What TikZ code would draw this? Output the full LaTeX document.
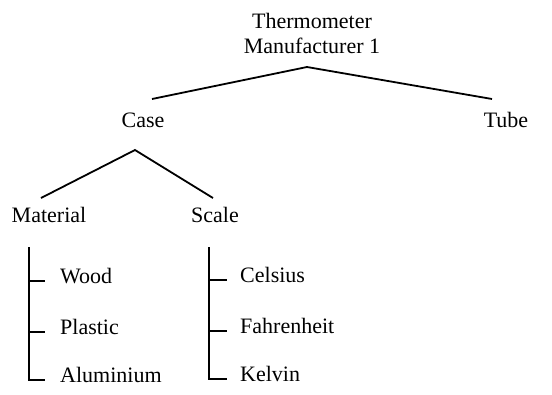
\documentclass[tikz,border=0pt]{standalone}
\usepackage{fontspec}
\setmainfont{Liberation Serif}
\begin{document}
\begin{tikzpicture}[x=1pt,y=-1pt,
  lbl/.style={inner sep=0pt, font=\fontsize{22}{25}\selectfont},
  leaf/.style={lbl, anchor=mid west},
  edge/.style={line width=1.8pt}]
\useasboundingbox (0,0) rectangle (552,394);
% nodes
\node[lbl, align=center] (thermo) at (312,33) {Thermometer\\Manufacturer 1};
\node[lbl] (case) at (143,120) {Case};
\node[lbl] (tube) at (506,120) {Tube};
\node[lbl] (material) at (49,215) {Material};
\node[lbl] (scale) at (215,215) {Scale};
\node[leaf] (wood) at (60,281) {Wood};
\node[leaf] (plastic) at (60,332) {Plastic};
\node[leaf] (alu) at (60,380) {Aluminium};
\node[leaf] (celsius) at (240,280) {Celsius};
\node[leaf] (fahr) at (240,331) {Fahrenheit};
\node[leaf] (kelvin) at (240,379) {Kelvin};
% connector points
\coordinate (tapex) at (307,67);
\coordinate (tl) at (152,99);
\coordinate (tr) at (492,99);
\coordinate (capex) at (135,150);
\coordinate (cl) at (41,198);
\coordinate (cr) at (213,198);
\coordinate (mtop) at (29,247);
\coordinate (stop) at (209,247);
% edges
\draw[edge] (tl) -- (tapex) -- (tr);
\draw[edge] (cl) -- (capex) -- (cr);
\draw[edge] (mtop) -- (mtop |- alu.mid west) -- ([xshift=-15pt]alu.mid west);
\draw[edge] (mtop |- wood.mid west) -- ([xshift=-15pt]wood.mid west);
\draw[edge] (mtop |- plastic.mid west) -- ([xshift=-15pt]plastic.mid west);
\draw[edge] (stop) -- (stop |- kelvin.mid west) -- ([xshift=-13pt]kelvin.mid west);
\draw[edge] (stop |- celsius.mid west) -- ([xshift=-13pt]celsius.mid west);
\draw[edge] (stop |- fahr.mid west) -- ([xshift=-13pt]fahr.mid west);
\end{tikzpicture}
\end{document}
